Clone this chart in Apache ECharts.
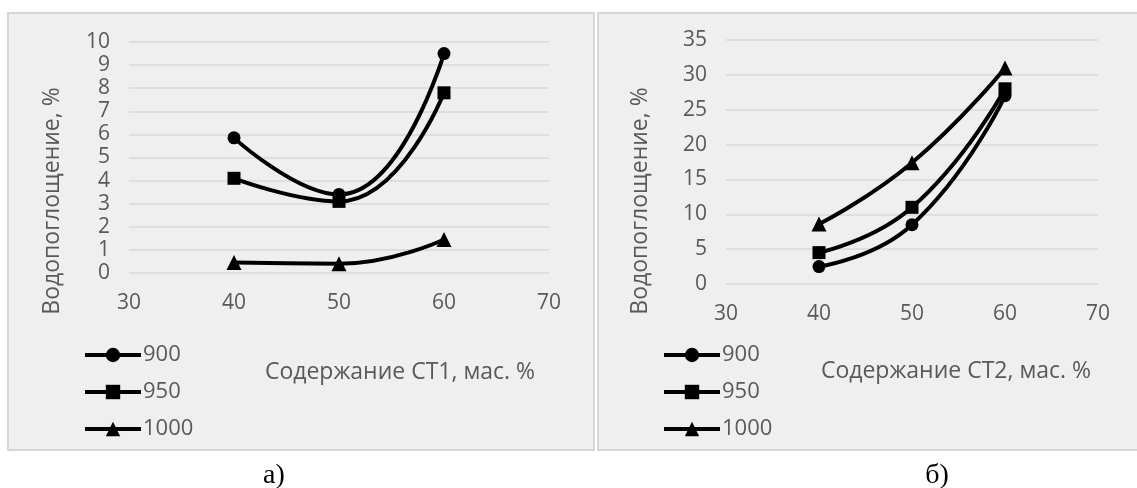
<!DOCTYPE html>
<html>
<head>
<meta charset="utf-8">
<script src="https://cdn.jsdelivr.net/npm/echarts@6/dist/echarts.min.js"></script>
<style>
html,body{margin:0;padding:0;background:#fff;}
#c{width:1137px;height:488px;}
</style>
</head>
<body>
<div id="c"></div>
<script>
// ---- data ----
const seriesNames = ['900', '950', '1000'];
const xValues = [40, 50, 60];
// panel a) CT1
const ct1_900 = [5.85, 3.4, 9.5];
const ct1_950 = [4.1, 3.1, 7.8];
const ct1_1000 = [0.45, 0.4, 1.45];
// panel б) CT2
const ct2_900 = [2.5, 8.5, 27];
const ct2_950 = [4.5, 11.0, 28];
const ct2_1000 = [8.6, 17.4, 31];
const yTitle = 'Водопоглощение, %';
const xTitle1 = 'Содержание СТ1, мас. %';
const xTitle2 = 'Содержание СТ2, мас. %';
const panelLabels = ['а)', 'б)'];
const symbols = ['circle', 'rect', 'triangle'];
const symbolSizes = [13, 13, 15];

const FONT = '"Open Sans", "Noto Sans", sans-serif';
const TXT = '#595959';

function pairs(vals){ return xValues.map((x,i)=>[x, vals[i]]); }

function mkSeries(vals, idx, gi){
  return {
    name: seriesNames[idx], type: 'line', xAxisIndex: gi, yAxisIndex: gi,
    data: pairs(vals), smooth: 0.5,
    symbol: symbols[idx], symbolSize: symbolSizes[idx],
    itemStyle: {color: '#000'}, lineStyle: {color: '#000', width: 4},
    animation: false
  };
}

function xAx(gi){
  return {
    type: 'value', gridIndex: gi, min: 30, max: 70, interval: 10,
    axisLine: {show: false}, axisTick: {show: false}, splitLine: {show: false},
    axisLabel: {color: TXT, fontFamily: FONT, fontSize: 21, margin: 20}
  };
}
function yAx(gi, max, interval){
  return {
    type: 'value', gridIndex: gi, min: 0, max: max, interval: interval,
    axisLine: {show: false}, axisTick: {show: false},
    splitLine: {show: true, lineStyle: {color: '#d9d9d9', width: 1.5}},
    axisLabel: {color: TXT, fontFamily: FONT, fontSize: 21, margin: 19}
  };
}
function legend(left){
  return {
    data: seriesNames, orient: 'vertical', left: left, top: 344, padding: 0,
    itemWidth: 56, itemHeight: 18, itemGap: 15,
    lineStyle: {width: 4, color: '#000'},
    textStyle: {color: TXT, fontFamily: FONT, fontSize: 22, padding: [0,0,0,-3]},
    selectedMode: false
  };
}

const chart = echarts.init(document.getElementById('c'), null, {renderer: 'canvas'});
chart.setOption({
  animation: false,
  backgroundColor: '#ffffff',
  grid: [
    {left: 129, right: 1137 - 549, top: 42, bottom: 488 - 273},
    {left: 726, right: 1137 - 1098, top: 40, bottom: 488 - 284}
  ],
  xAxis: [xAx(0), xAx(1)],
  yAxis: [yAx(0, 10, 1), yAx(1, 35, 5)],
  legend: [legend(83), legend(662)],
  series: [
    mkSeries(ct1_900, 0, 0), mkSeries(ct1_950, 1, 0), mkSeries(ct1_1000, 2, 0),
    mkSeries(ct2_900, 0, 1), mkSeries(ct2_950, 1, 1), mkSeries(ct2_1000, 2, 1)
  ],
  graphic: [
    {type: 'rect', z: -10, silent: true, shape: {x: 8, y: 13, width: 586, height: 437},
     style: {fill: '#efefef', stroke: '#d6d6d6', lineWidth: 2}},
    {type: 'rect', z: -10, silent: true, shape: {x: 598, y: 13, width: 545, height: 437},
     style: {fill: '#efefef', stroke: '#d6d6d6', lineWidth: 2}},
    {type: 'text', x: 52, y: 201, rotation: Math.PI/2, silent: true,
     style: {text: yTitle, fill: TXT, font: '23px ' + FONT, textAlign: 'center', textVerticalAlign: 'middle'}},
    {type: 'text', x: 640, y: 201, rotation: Math.PI/2, silent: true,
     style: {text: yTitle, fill: TXT, font: '23px ' + FONT, textAlign: 'center', textVerticalAlign: 'middle'}},
    {type: 'text', x: 400, y: 372, silent: true,
     style: {text: xTitle1, fill: TXT, font: '23px ' + FONT, textAlign: 'center', textVerticalAlign: 'middle'}},
    {type: 'text', x: 956, y: 371, silent: true,
     style: {text: xTitle2, fill: TXT, font: '23px ' + FONT, textAlign: 'center', textVerticalAlign: 'middle'}},
    {type: 'text', x: 274, y: 476, silent: true,
     style: {text: panelLabels[0], fill: '#000', font: '28px "Liberation Serif", "Times New Roman", serif', textAlign: 'center', textVerticalAlign: 'middle'}},
    {type: 'text', x: 937, y: 476, silent: true,
     style: {text: panelLabels[1], fill: '#000', font: '28px "Liberation Serif", "Times New Roman", serif', textAlign: 'center', textVerticalAlign: 'middle'}}
  ]
});
</script>
</body>
</html>
